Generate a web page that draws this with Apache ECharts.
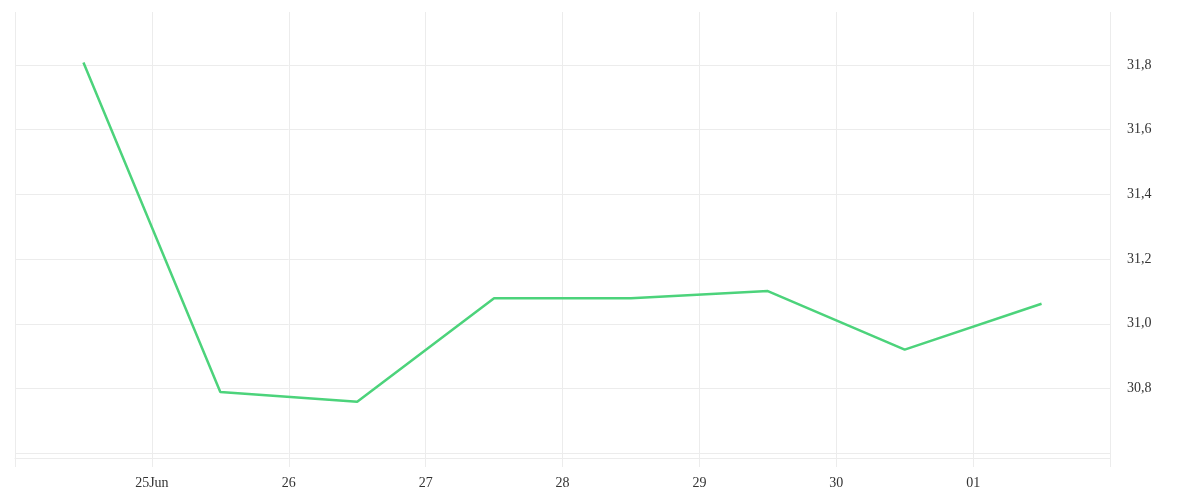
<!DOCTYPE html>
<html>
<head>
<meta charset="utf-8">
<script src="https://cdn.jsdelivr.net/npm/echarts@6/dist/echarts.min.js"></script>
<style>
  html, body { margin: 0; padding: 0; background: #fff; }
  #chart { width: 1200px; height: 500px; }
</style>
</head>
<body>
<div id="chart"></div>
<script>
// daily values, one per day from 24 Jun to 01 Jul
const days = ['24', '25', '26', '27', '28', '29', '30', '01'];
const values = [31.808, 30.789, 30.759, 31.079, 31.079, 31.101, 30.920, 31.062];
// labels sit on the day boundaries
const tickLabels = ['', '25Jun', '26', '27', '28', '29', '30', '01', ''];
const yLabels = ['30,8', '31,0', '31,2', '31,4', '31,6', '31,8'];

const lineColor = '#4cd37b';
const gridColor = '#ececec';
const font = 'Liberation Serif';

const points = values.map((v, i) => [i + 0.5, v]);

const chart = echarts.init(document.getElementById('chart'));
chart.setOption({
    animation: false,
    grid: { left: 15, right: 90, top: 12, bottom: 42 },
    xAxis: {
        type: 'value',
        min: 0,
        max: days.length,
        interval: 1,
        axisLine: { show: true, lineStyle: { color: gridColor } },
        axisTick: { show: true, length: 9, lineStyle: { color: gridColor } },
        splitLine: { show: true, lineStyle: { color: gridColor } },
        axisLabel: {
            margin: 18,
            color: '#333',
            fontFamily: font,
            fontSize: 14,
            formatter: (v) => tickLabels[v] || ''
        }
    },
    yAxis: {
        type: 'value',
        position: 'right',
        min: 30.585,
        max: 31.964,
        splitNumber: 7,
        axisLine: { show: false },
        axisTick: { show: false },
        splitLine: { show: true, showMinLine: false, showMaxLine: false, lineStyle: { color: gridColor } },
        axisLabel: {
            margin: 17,
            color: '#333',
            fontFamily: font,
            fontSize: 14,
            showMinLabel: false,
            showMaxLabel: false,
            formatter: (v) => {
                const s = v.toFixed(1).replace('.', ',');
                return yLabels.indexOf(s) >= 0 ? s : '';
            }
        }
    },
    series: [{
        type: 'line',
        data: points,
        symbol: 'none',
        lineStyle: { color: lineColor, width: 2.5 }
    }]
});
</script>
</body>
</html>
